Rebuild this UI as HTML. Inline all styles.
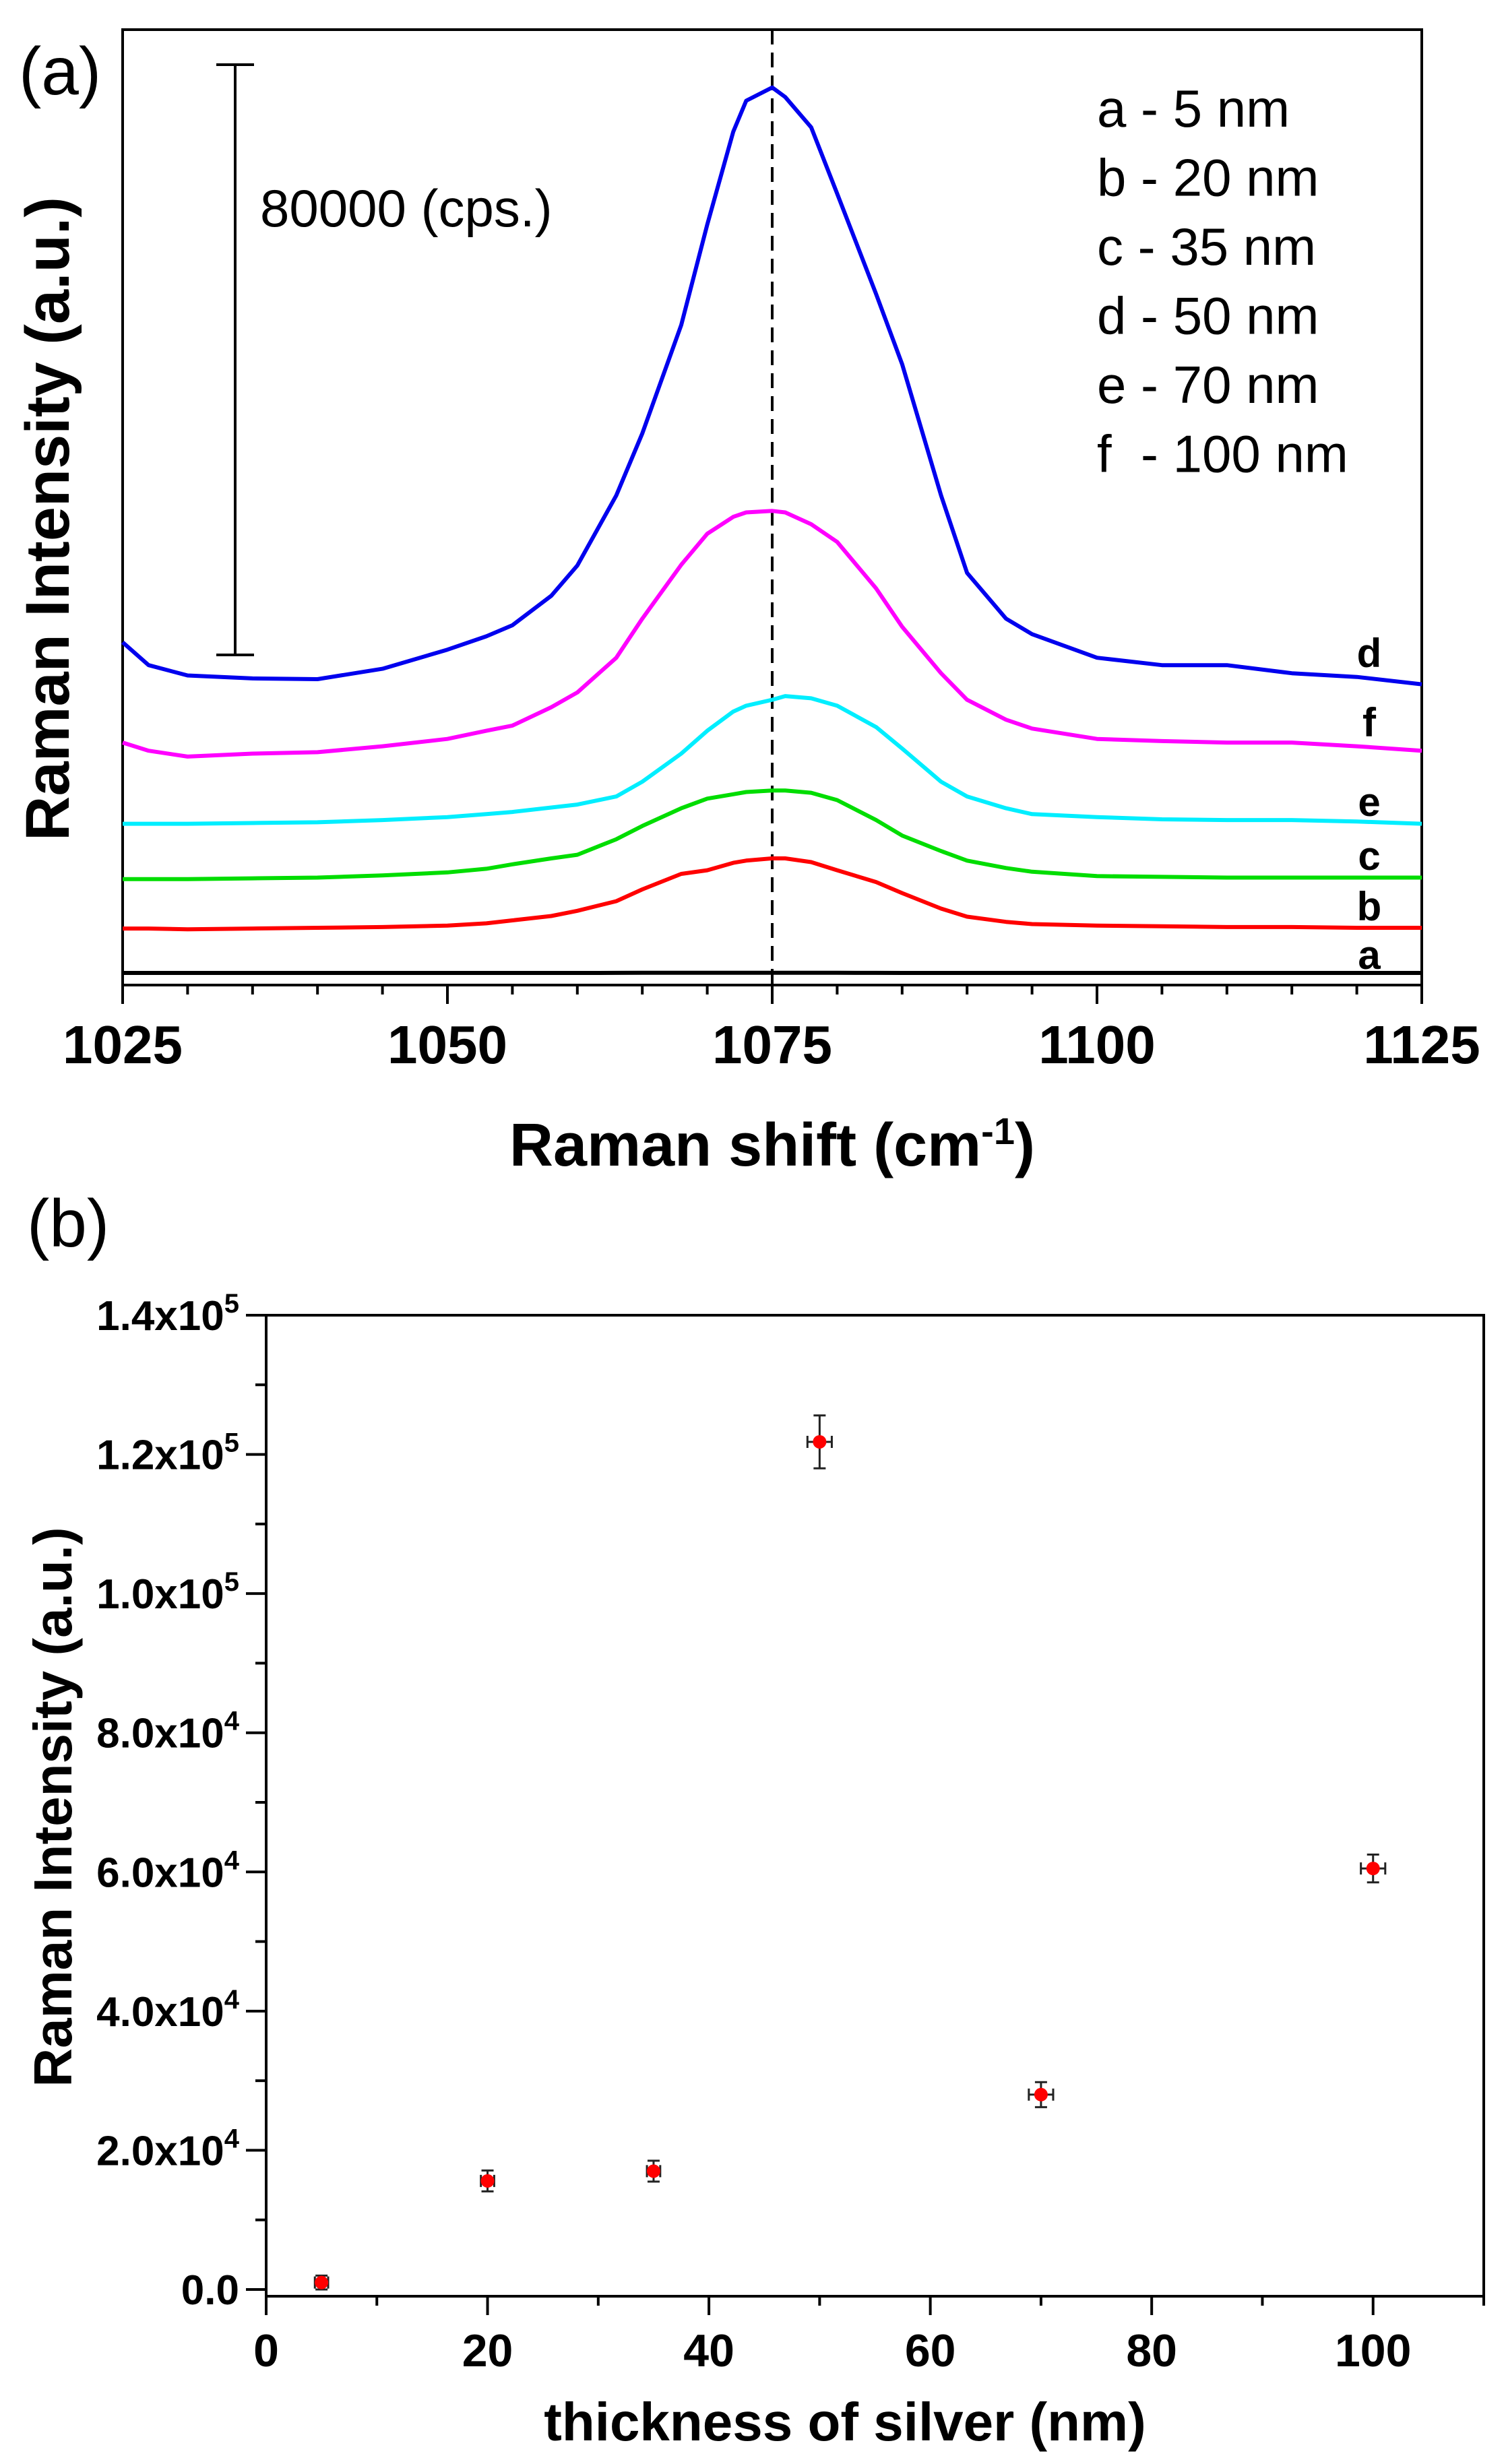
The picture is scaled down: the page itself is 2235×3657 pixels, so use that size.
<!DOCTYPE html>
<html><head><meta charset="utf-8"><style>
body{margin:0;background:#fff}
svg{display:block;font-family:"Liberation Sans",Arial,sans-serif}
</style></head><body>
<svg id="fig" width="2235" height="3657" viewBox="0 0 2235 3657" xmlns="http://www.w3.org/2000/svg">
<rect width="2235" height="3657" fill="#fff"/>
<g id="pa"></g>
<g id="pb"></g>
</svg>
<script>
// ---------- Panel (a) data ----------
const shiftX = [1025,1027,1030,1035,1040,1045,1050,1053,1055,1058,1060,1063,1065,1068,1070,1072,1073,1075,1076,1078,1080,1083,1085,1088,1090,1093,1095,1100,1105,1110,1115,1120,1125];
const seriesA = [1280,1280,1280,1280,1280,1280,1280,1280,1280,1280,1280,1290,1300,1300,1300,1300,1300,1300,1300,1300,1300,1290,1280,1280,1280,1280,1280,1280,1280,1280,1280,1280,1280];
const seriesB = [7300,7300,7200,7300,7400,7500,7700,8000,8400,9000,9700,11000,12600,14700,15200,16200,16500,16800,16800,16300,15200,13600,12100,10000,8900,8200,7900,7700,7600,7500,7500,7400,7400];
const seriesC = [14000,14000,14000,14100,14200,14500,14900,15400,16000,16800,17300,19400,21200,23600,24900,25500,25800,26000,26000,25700,24700,22000,19900,17800,16500,15500,15000,14400,14300,14200,14200,14200,14200];
const seriesE = [21500,21500,21500,21600,21700,22000,22400,22800,23100,23700,24100,25200,27200,31000,34100,36700,37500,38300,38800,38500,37500,34600,31700,27200,25200,23600,22800,22400,22100,22000,22000,21800,21500];
const seriesF = [32500,31400,30600,31000,31200,32000,33000,34100,34800,37300,39300,44000,49300,56600,60800,63100,63700,63900,63700,62100,59700,53400,48200,41900,38300,35600,34400,33000,32700,32500,32500,32000,31400];
const seriesD = [46100,43000,41600,41200,41100,42500,45100,46900,48400,52400,56500,66000,74400,89100,102700,115300,119500,121300,120000,115900,106900,93300,83800,66000,55500,49300,47200,44000,43000,43000,41900,41400,40400];
const curveNames = ["a","b","c","e","f","d"];
const curveColors = ["#000000","#ff0000","#00dd00","#00eeff","#ff00ff","#0000ee"];
const xTicksA = [1025,1050,1075,1100,1125];
const legendLines = ["a - 5 nm","b - 20 nm","c - 35 nm","d - 50 nm","e - 70 nm","f  - 100 nm"];
const scaleBarValue = 80000;
// ---------- Panel (b) data ----------
const thickness = [5,20,35,50,70,100];
const intensity = [1000,15600,17000,121800,28000,60500];
const intensityErr = [1000,1500,1500,3800,1800,2000];
const thicknessErr = [0.6,0.6,0.6,1.1,1.1,1.1];
const yTicksB = [0,20000,40000,60000,80000,100000,120000,140000];
const yTickLabelsB = [["0.0",""],["2.0x10","4"],["4.0x10","4"],["6.0x10","4"],["8.0x10","4"],["1.0x10","5"],["1.2x10","5"],["1.4x10","5"]];
const xTicksB = [0,20,40,60,80,100];

const NS="http://www.w3.org/2000/svg";
function mk(parent,tag,attrs,text){const e=document.createElementNS(NS,tag);for(const k in attrs)e.setAttribute(k,attrs[k]);if(text!==undefined)e.textContent=text;parent.appendChild(e);return e;}

// ---- Panel a ----
const pa=document.getElementById('pa');
const aL=182,aR=2110,aT=44,aB=1462;
const ax=v=>aL+(v-1025)/(1125-1025)*(aR-aL);
const ay=v=>aB-4-v*0.01095;
let e;
e=mk(pa,'rect',{x:aL,y:aT,width:aR-aL,height:aB-aT,fill:'none',stroke:'#000','stroke-width':4});

for(let v=1025;v<=1125;v+=5){const maj=xTicksA.includes(v);
 e=mk(pa,'line',{x1:ax(v),x2:ax(v),y1:aB,y2:aB+(maj?28:14),stroke:'#000','stroke-width':4});
 }
xTicksA.forEach(v=>{e=mk(pa,'text',{x:ax(v),y:1578,'font-size':80,'font-weight':'bold','text-anchor':'middle'},String(v));
 });
e=mk(pa,'text',{x:1146,y:1730,'font-size':90,'font-weight':'bold','text-anchor':'middle'});

e.innerHTML='Raman shift (cm<tspan dy="-32" font-size="56">-1</tspan><tspan dy="32">)</tspan>';
e=mk(pa,'text',{x:0,y:0,'font-size':92,'font-weight':'bold','text-anchor':'middle',transform:'translate(102,770) rotate(-90)'},'Raman Intensity (a.u.)');

e=mk(pa,'text',{x:28,y:140,'font-size':100},'(a)');

e=mk(pa,'line',{x1:ax(1075),x2:ax(1075),y1:aT,y2:aB,stroke:'#000','stroke-width':4,'stroke-dasharray':'22,12'});

const sbBot=972, sbTop=sbBot-scaleBarValue*0.01095;
e=mk(pa,'path',{d:`M349 ${sbTop}V${sbBot}M321 ${sbTop}H377M321 ${sbBot}H377`,stroke:'#000','stroke-width':4,fill:'none'});

e=mk(pa,'text',{x:386,y:336,'font-size':78},'80000 (cps.)');

legendLines.forEach((t,i)=>{e=mk(pa,'text',{x:1628,y:188+i*102.5,'font-size':78,style:'white-space:pre'},t);
 });
const allSeries=[seriesA,seriesB,seriesC,seriesE,seriesF,seriesD];
const labelY=[1418,1346,1271,1191,1073,970];
allSeries.forEach((s,k)=>{
 const d=s.map((v,i)=>(i?'L':'M')+ax(shiftX[i]).toFixed(1)+' '+ay(v).toFixed(1)).join('');
 e=mk(pa,'path',{d:d,fill:'none',stroke:curveColors[k],'stroke-width':6,'stroke-linejoin':'round'});
 
 e=mk(pa,'text',{x:2032,y:labelY[k]+20,'font-size':60,'font-weight':'bold','text-anchor':'middle'},curveNames[k]);
 
});

// ---- Panel b ----
const pb=document.getElementById('pb');
const bL=395,bR=2202,bT=1952,bB=3408;
const bx=v=>bL+v/110*(bR-bL);
const by=v=>3398-v/140000*(3398-1952);
e=mk(pb,'text',{x:40,y:1850,'font-size':100},'(b)');

e=mk(pb,'rect',{x:bL,y:bT,width:bR-bL,height:bB-bT,fill:'none',stroke:'#000','stroke-width':4});

for(let v=0;v<=140000;v+=10000){const maj=v%20000===0;
 e=mk(pb,'line',{x1:bL-(maj?30:16),x2:bL,y1:by(v),y2:by(v),stroke:'#000','stroke-width':4});
 }
yTicksB.forEach((v,i)=>{e=mk(pb,'text',{x:355,y:by(v)+22,'font-size':62,'font-weight':'bold','text-anchor':'end'});
 
 const l=yTickLabelsB[i];
 e.innerHTML=l[1]?`${l[0]}<tspan dy="-26" font-size="40">${l[1]}</tspan>`:l[0];});
for(let v=0;v<=110;v+=10){const maj=v%20===0;
 e=mk(pb,'line',{x1:bx(v),x2:bx(v),y1:bB,y2:bB+(maj?28:14),stroke:'#000','stroke-width':4});
 }
xTicksB.forEach(v=>{e=mk(pb,'text',{x:bx(v),y:3512,'font-size':68,'font-weight':'bold','text-anchor':'middle'},String(v));
 });
e=mk(pb,'text',{x:1254,y:3622,'font-size':80,'font-weight':'bold','text-anchor':'middle'},'thickness of silver (nm)');

e=mk(pb,'text',{x:0,y:0,'font-size':80,'font-weight':'bold','text-anchor':'middle',transform:'translate(106,2682) rotate(-90)'},'Raman Intensity (a.u.)');

thickness.forEach((t,i)=>{const cx=bx(t),cy=by(intensity[i]);
 const y1=by(intensity[i]+intensityErr[i]),y2=by(intensity[i]-intensityErr[i]);
 const x1=bx(t-thicknessErr[i]),x2=bx(t+thicknessErr[i]);
 e=mk(pb,'path',{d:`M${cx} ${y1}V${y2}M${cx-9} ${y1}H${cx+9}M${cx-9} ${y2}H${cx+9}M${x1} ${cy}H${x2}M${x1} ${cy-9}V${cy+9}M${x2} ${cy-9}V${cy+9}`,stroke:'#222','stroke-width':3,fill:'none'});
 
 e=mk(pb,'circle',{cx:cx,cy:cy,r:10,fill:'#ff0000'});
 
});
</script>
</body></html>
